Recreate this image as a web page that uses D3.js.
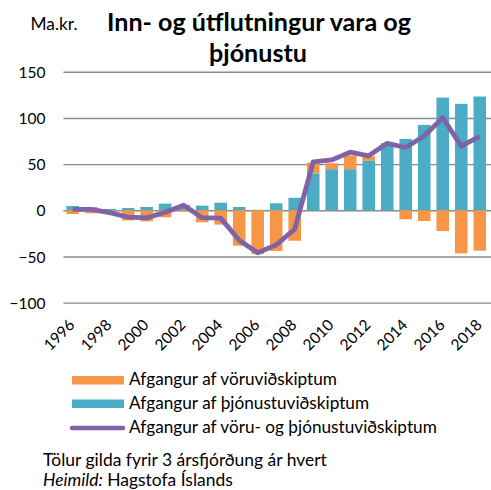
<!DOCTYPE html>
<html>
<head>
<meta charset="utf-8">
<script src="https://cdn.jsdelivr.net/npm/d3@7"></script>
<style>
  body { margin: 0; background: #fff; }
  text { font-family: Lato, "Open Sans", sans-serif; fill: #000; }
</style>
</head>
<body>
<svg id="chart" width="491" height="490"></svg>
<script>
// ar, afgangur af thjonustu (blatt), afgangur af voru (appelsinugult), samtals (lina)
var years    = d3.range(1996, 2019).map(String);
var services = [4.7, 3.2, 1.4, 2.5, 3.6, 7.2, 5.7, 5, 8.2, 3.6, 0.5, 7.6, 13.5, 40, 44.5, 44.5, 53.5, 72.6, 77.3, 92.5, 122.1, 115.3, 123.2];
var goods    = [-4, -3.3, -1.4, -11, -12, -7.6, -1.5, -13, -15.5, -38.4, -47.5, -44, -33, 11.6, 6.5, 15, 5, 0, -9.8, -11.6, -22.5, -46.7, -43.8];
var total    = [1, 1, -2.5, -7.4, -8.2, -2.2, 5.4, -8, -8.5, -32.5, -46, -37.5, -20.5, 52.5, 54.5, 63, 59, 72.5, 68, 80.5, 100.2, 69.5, 80];
var yTicks   = [-100, -50, 0, 50, 100, 150];
var xLabels  = years.filter(function(d, i){ return i % 2 === 0; });
var legendLabels = ['Afgangur af vöruviðskiptum', 'Afgangur af þjónustuviðskiptum', 'Afgangur af vöru- og þjónustuviðskiptum'];

var orange = '#F79646', blue = '#4BACC6', purple = '#7F63A6', grid = '#8a8a8a';

var svg = d3.select('#chart');

var x = d3.scaleBand().domain(years).range([63.4, 489]).paddingInner(0.32).paddingOuter(0.16);
var y = d3.scaleLinear().domain([-100, 150]).range([302.6, 71.8]);

// stretch a text to a wanted width by changing its font size
function fit(t, w){
	var fs = parseFloat(t.attr('font-size'));
	t.attr('font-size', fs * w / t.node().getComputedTextLength());
}

/* --------- GRID + Y AXIS ---------*/
var yAxis = svg.append('g').attr('transform', 'translate(63.4,0)')
	.call(d3.axisLeft(y).tickValues(yTicks).tickSize(-427.6).tickPadding(18));
yAxis.select('.domain').remove();
yAxis.selectAll('line').attr('stroke', grid).attr('stroke-width', 1.4);
yAxis.selectAll('text').attr('font-size', 15.5).attr('font-family', 'Lato').attr('dy', '0.36em');

/* --------- BARS ---------*/
var rows = years.map(function(d, i){ return {year: d, s: services[i], g: goods[i]}; });
var bars = svg.append('g');

bars.selectAll('rect.s').data(rows).enter().append('rect')
	.attr('x', function(d){ return x(d.year); })
	.attr('width', x.bandwidth())
	.attr('y', function(d){ return y(Math.max(d.s, 0)); })
	.attr('height', function(d){ return Math.abs(y(d.s) - y(0)); })
	.attr('fill', blue);

bars.selectAll('rect.g').data(rows).enter().append('rect')
	.attr('x', function(d){ return x(d.year); })
	.attr('width', x.bandwidth())
	.attr('y', function(d){ return d.g >= 0 ? y(d.s + d.g) : y(0); })
	.attr('height', function(d){ return Math.abs(y(d.g) - y(0)); })
	.attr('fill', orange);

/* --------- LINE ---------*/
var line = d3.line()
	.x(function(d, i){ return x(years[i]) + x.bandwidth() / 2; })
	.y(function(d){ return y(d); });

svg.append('path').datum(total)
	.attr('d', line)
	.attr('fill', 'none')
	.attr('stroke', purple)
	.attr('stroke-width', 4.8)
	.attr('stroke-linejoin', 'round');

/* --------- X LABELS ---------*/
svg.append('g').selectAll('text').data(xLabels).enter().append('text')
	.attr('transform', function(d){ return 'translate(' + (x(d) + x.bandwidth() / 2 + 3) + ',326) rotate(-45)'; })
	.attr('text-anchor', 'end')
	.attr('font-size', 15.5)
	.text(function(d){ return d; });

/* --------- TITLE ---------*/
var t1 = svg.append('text').attr('x', 259).attr('y', 31).attr('text-anchor', 'middle')
	.attr('font-weight', 'bold').attr('font-size', 24).text('Inn- og útflutningur vara og');
fit(t1, 304);
var t2 = svg.append('text').attr('x', 258).attr('y', 61.5).attr('text-anchor', 'middle')
	.attr('font-weight', 'bold').attr('font-size', t1.attr('font-size')).text('þjónustu');

var unit = svg.append('text').attr('x', 30.5).attr('y', 29.5).attr('font-size', 15).text('Ma.kr.');
fit(unit, 47);

/* --------- LEGEND ---------*/
var lg = svg.append('g');
lg.append('rect').attr('x', 72).attr('y', 376).attr('width', 52).attr('height', 8.5).attr('fill', orange);
lg.append('rect').attr('x', 72).attr('y', 399.5).attr('width', 52).attr('height', 8.5).attr('fill', blue);
lg.append('line').attr('x1', 72).attr('x2', 123).attr('y1', 428).attr('y2', 428)
	.attr('stroke', purple).attr('stroke-width', 4.5).attr('stroke-linecap', 'round');

var lt = lg.selectAll('text').data(legendLabels).enter().append('text')
	.attr('x', 129)
	.attr('y', function(d, i){ return 385 + i * 24; })
	.attr('font-size', 16)
	.text(function(d){ return d; });
fit(d3.select(lt.nodes()[2]), 308);
lt.attr('font-size', d3.select(lt.nodes()[2]).attr('font-size'));

/* --------- FOOTER ---------*/
var f1 = svg.append('text').attr('x', 43).attr('y', 465.5).attr('font-size', 16)
	.text('Tölur gilda fyrir 3 ársfjórðung ár hvert');
fit(f1, 284);
var f2 = svg.append('text').attr('x', 43).attr('y', 485.5).attr('font-size', f1.attr('font-size'));
f2.append('tspan').attr('font-style', 'italic').text('Heimild:');
f2.append('tspan').text(' Hagstofa Íslands');
</script>
</body>
</html>
